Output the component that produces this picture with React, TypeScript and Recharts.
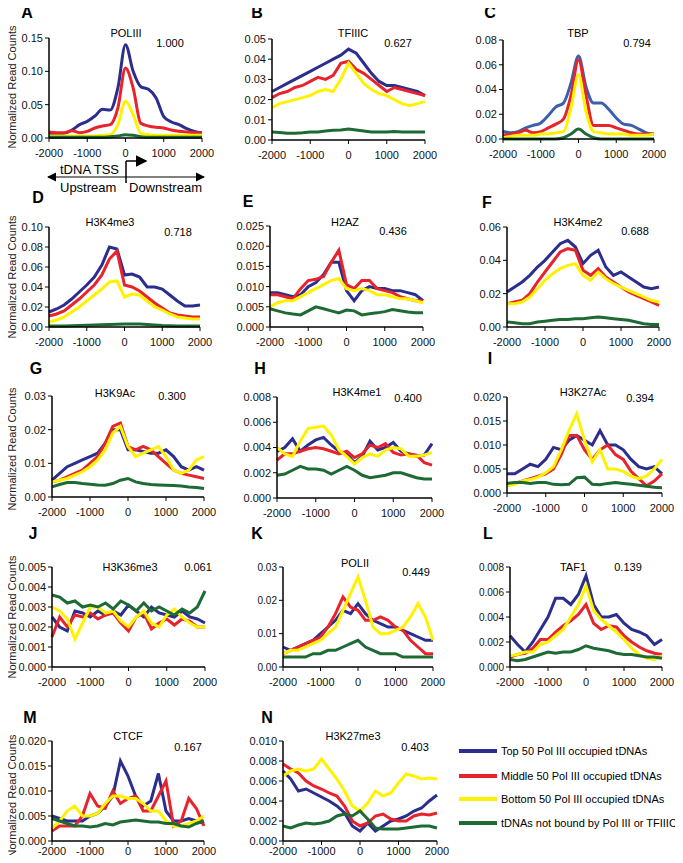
import { Line, LineChart, XAxis, YAxis } from "recharts";

// positions relative to tDNA TSS (bp)
const POS = [-2000, -1800, -1600, -1400, -1200, -1000, -800, -600, -400, -200, 0, 200, 400, 600, 800, 1000, 1200, 1400, 1600, 1800, 2000];
const X_TICKS = [-2000, -1000, 0, 1000, 2000];

// A POLIII
const aTop = [0.006, 0.006, 0.007, 0.012, 0.02, 0.025, 0.033, 0.043, 0.042, 0.075, 0.14, 0.1, 0.077, 0.073, 0.06, 0.032, 0.024, 0.02, 0.014, 0.01, 0.008];
const aMid = [0.009, 0.008, 0.008, 0.011, 0.008, 0.01, 0.015, 0.018, 0.02, 0.045, 0.105, 0.075, 0.022, 0.018, 0.016, 0.015, 0.012, 0.01, 0.009, 0.008, 0.008];
const aLow = [0.003, 0.003, 0.003, 0.003, 0.003, 0.003, 0.003, 0.004, 0.005, 0.02, 0.055, 0.035, 0.007, 0.005, 0.004, 0.004, 0.004, 0.004, 0.004, 0.004, 0.004];
const aNone = [0.001, 0.001, 0.001, 0.001, 0.001, 0.001, 0.001, 0.001, 0.002, 0.003, 0.005, 0.004, 0.002, 0.001, 0.001, 0.001, 0.001, 0.001, 0.001, 0.001, 0.001];

// B TFIIIC
const bTop = [0.024, 0.026, 0.028, 0.03, 0.032, 0.034, 0.036, 0.038, 0.04, 0.042, 0.045, 0.043, 0.038, 0.033, 0.029, 0.027, 0.027, 0.026, 0.025, 0.024, 0.022];
const bMid = [0.021, 0.023, 0.024, 0.026, 0.027, 0.029, 0.031, 0.03, 0.032, 0.038, 0.039, 0.035, 0.033, 0.03, 0.027, 0.024, 0.026, 0.025, 0.024, 0.023, 0.022];
const bLow = [0.016, 0.018, 0.019, 0.02, 0.021, 0.022, 0.024, 0.025, 0.024, 0.03, 0.038, 0.033, 0.028, 0.025, 0.023, 0.022, 0.02, 0.018, 0.017, 0.018, 0.019];
const bNone = [0.004, 0.0037, 0.0033, 0.0033, 0.0036, 0.004, 0.004, 0.0045, 0.0048, 0.005, 0.0055, 0.005, 0.0045, 0.004, 0.004, 0.004, 0.0042, 0.004, 0.004, 0.004, 0.004];

// C TBP
const cTop = [0.006, 0.005, 0.006, 0.009, 0.011, 0.013, 0.019, 0.026, 0.029, 0.045, 0.067, 0.042, 0.029, 0.029, 0.024, 0.017, 0.012, 0.011, 0.008, 0.005, 0.004];
const cMid = [0.003, 0.004, 0.005, 0.007, 0.005, 0.006, 0.009, 0.012, 0.016, 0.035, 0.064, 0.035, 0.011, 0.011, 0.011, 0.009, 0.007, 0.005, 0.004, 0.004, 0.004];
const cLow = [0.001, 0.002, 0.003, 0.003, 0.003, 0.004, 0.004, 0.005, 0.006, 0.025, 0.052, 0.022, 0.006, 0.005, 0.004, 0.004, 0.004, 0.003, 0.003, 0.003, 0.004];
const cNone = [0, 0, 0, 0, 0, 0, 0, 0, 0.001, 0.004, 0.008, 0.004, 0.001, 0, 0, 0, 0, 0, 0, 0, 0];

// D H3K4me3
const dTop = [0.015, 0.018, 0.022, 0.028, 0.035, 0.042, 0.05, 0.062, 0.08, 0.078, 0.052, 0.053, 0.05, 0.04, 0.04, 0.038, 0.032, 0.026, 0.021, 0.021, 0.022];
const dMid = [0.011, 0.013, 0.016, 0.022, 0.028, 0.035, 0.042, 0.052, 0.068, 0.076, 0.042, 0.04, 0.036, 0.03, 0.024, 0.019, 0.014, 0.012, 0.011, 0.01, 0.01];
const dLow = [0.005, 0.007, 0.01, 0.015, 0.02, 0.026, 0.032, 0.038, 0.045, 0.046, 0.03, 0.033, 0.032, 0.026, 0.02, 0.017, 0.013, 0.01, 0.009, 0.008, 0.008];
const dNone = [0.001, 0.001, 0.001, 0.0012, 0.0015, 0.0018, 0.002, 0.0022, 0.0025, 0.0028, 0.003, 0.003, 0.003, 0.0025, 0.002, 0.0015, 0.0012, 0.001, 0.001, 0.001, 0.001];

// E H2AZ
const eTop = [0.0085, 0.0085, 0.008, 0.0075, 0.008, 0.01, 0.011, 0.013, 0.016, 0.016, 0.009, 0.0065, 0.009, 0.01, 0.0095, 0.0095, 0.009, 0.009, 0.0085, 0.008, 0.0065];
const eMid = [0.008, 0.008, 0.0075, 0.007, 0.0095, 0.0115, 0.0118, 0.0125, 0.016, 0.019, 0.0105, 0.0095, 0.0115, 0.0115, 0.0095, 0.009, 0.0085, 0.0075, 0.007, 0.0065, 0.0065];
const eLow = [0.005, 0.006, 0.0065, 0.0065, 0.0075, 0.0085, 0.0095, 0.0105, 0.0115, 0.012, 0.0095, 0.009, 0.0095, 0.009, 0.008, 0.008, 0.0075, 0.007, 0.007, 0.0065, 0.006];
const eNone = [0.0045, 0.004, 0.0035, 0.0032, 0.003, 0.004, 0.005, 0.0045, 0.004, 0.0035, 0.0042, 0.004, 0.003, 0.0033, 0.0035, 0.0038, 0.0043, 0.004, 0.0037, 0.0035, 0.0035];

// F H3K4me2
const fTop = [0.021, 0.024, 0.027, 0.031, 0.036, 0.04, 0.045, 0.05, 0.052, 0.048, 0.038, 0.043, 0.046, 0.036, 0.031, 0.033, 0.03, 0.027, 0.024, 0.023, 0.024];
const fMid = [0.014, 0.015, 0.016, 0.02, 0.027, 0.033, 0.039, 0.045, 0.047, 0.046, 0.034, 0.031, 0.035, 0.03, 0.027, 0.024, 0.021, 0.019, 0.017, 0.015, 0.013];
const fLow = [0.014, 0.014, 0.015, 0.018, 0.023, 0.028, 0.032, 0.035, 0.037, 0.038, 0.031, 0.028, 0.033, 0.029, 0.026, 0.024, 0.022, 0.02, 0.018, 0.016, 0.015];
const fNone = [0.003, 0.0025, 0.002, 0.002, 0.003, 0.0035, 0.004, 0.0045, 0.0045, 0.005, 0.005, 0.0055, 0.006, 0.0055, 0.005, 0.0045, 0.004, 0.003, 0.002, 0.0015, 0.0015];

// G H3K9Ac
const gTop = [0.005, 0.007, 0.009, 0.01, 0.011, 0.012, 0.013, 0.016, 0.02, 0.02, 0.014, 0.014, 0.0135, 0.013, 0.013, 0.014, 0.012, 0.009, 0.008, 0.009, 0.008];
const gMid = [0.0045, 0.005, 0.006, 0.007, 0.008, 0.01, 0.012, 0.016, 0.021, 0.022, 0.015, 0.014, 0.015, 0.014, 0.012, 0.01, 0.008, 0.007, 0.0065, 0.006, 0.0055];
const gLow = [0.0045, 0.005, 0.0055, 0.0065, 0.0075, 0.009, 0.011, 0.014, 0.019, 0.021, 0.015, 0.012, 0.013, 0.014, 0.015, 0.012, 0.008, 0.007, 0.008, 0.011, 0.012];
const gNone = [0.003, 0.0037, 0.0043, 0.0043, 0.004, 0.0038, 0.0036, 0.0035, 0.004, 0.005, 0.0055, 0.0045, 0.004, 0.0037, 0.0036, 0.0035, 0.0034, 0.0033, 0.003, 0.0028, 0.0025];

// H H3K4me1
const hTop = [0.0037, 0.004, 0.0047, 0.0037, 0.0042, 0.0046, 0.0048, 0.0042, 0.0037, 0.0035, 0.0028, 0.0033, 0.0045, 0.0038, 0.004, 0.0044, 0.0037, 0.0035, 0.0033, 0.0034, 0.0043];
const hMid = [0.003, 0.0035, 0.0035, 0.0037, 0.0039, 0.004, 0.0039, 0.0037, 0.0035, 0.0037, 0.0032, 0.0035, 0.0042, 0.004, 0.0043, 0.0036, 0.0034, 0.0035, 0.0034, 0.0028, 0.0026];
const hLow = [0.004, 0.0035, 0.0033, 0.0045, 0.0055, 0.0056, 0.0057, 0.005, 0.0038, 0.0033, 0.0027, 0.0032, 0.0035, 0.0033, 0.0038, 0.004, 0.0039, 0.0033, 0.0033, 0.0034, 0.0036];
const hNone = [0.0018, 0.0019, 0.0022, 0.0025, 0.0023, 0.0023, 0.0022, 0.0019, 0.0022, 0.0025, 0.0022, 0.0018, 0.0016, 0.0017, 0.0018, 0.002, 0.002, 0.0018, 0.0016, 0.0015, 0.0015];

// I H3K27Ac
const iTop = [0.004, 0.004, 0.005, 0.006, 0.0055, 0.007, 0.0095, 0.009, 0.011, 0.012, 0.011, 0.01, 0.013, 0.01, 0.01, 0.009, 0.007, 0.0055, 0.005, 0.0055, 0.004];
const iMid = [0.0015, 0.002, 0.0025, 0.003, 0.0035, 0.004, 0.005, 0.008, 0.012, 0.012, 0.009, 0.007, 0.009, 0.01, 0.008, 0.007, 0.0045, 0.003, 0.0015, 0.0025, 0.004];
const iLow = [0.0015, 0.0018, 0.0025, 0.0028, 0.0033, 0.0042, 0.0055, 0.009, 0.013, 0.0165, 0.011, 0.0065, 0.009, 0.005, 0.005, 0.0045, 0.0035, 0.003, 0.0035, 0.005, 0.007];
const iNone = [0.002, 0.0022, 0.0022, 0.002, 0.0022, 0.0022, 0.0018, 0.0017, 0.0018, 0.0032, 0.0033, 0.0018, 0.0017, 0.002, 0.0022, 0.002, 0.0018, 0.0016, 0.0014, 0.0012, 0.0011];

// J H3K36me3
const jTop = [0.0025, 0.002, 0.0018, 0.0028, 0.0027, 0.0025, 0.0028, 0.0026, 0.0028, 0.0026, 0.0031, 0.0028, 0.0025, 0.003, 0.0027, 0.0026, 0.0025, 0.0028, 0.0025, 0.0024, 0.0022];
const jMid = [0.0015, 0.0025, 0.002, 0.0026, 0.0025, 0.0027, 0.0024, 0.0026, 0.0027, 0.0022, 0.0018, 0.0025, 0.0027, 0.0019, 0.0022, 0.0024, 0.0021, 0.0024, 0.0023, 0.002, 0.002];
const jLow = [0.003, 0.0028, 0.0024, 0.0014, 0.0022, 0.003, 0.003, 0.0027, 0.0028, 0.0023, 0.002, 0.0025, 0.0028, 0.0022, 0.002, 0.0026, 0.0029, 0.0025, 0.0022, 0.002, 0.002];
const jNone = [0.0036, 0.0035, 0.0032, 0.0033, 0.003, 0.0031, 0.003, 0.0032, 0.0029, 0.0033, 0.0031, 0.0028, 0.0032, 0.0028, 0.003, 0.0028, 0.0026, 0.0029, 0.0027, 0.003, 0.0038];

// K POLII
const kTop = [0.006, 0.005, 0.006, 0.007, 0.008, 0.01, 0.012, 0.014, 0.017, 0.016, 0.019, 0.016, 0.014, 0.013, 0.012, 0.012, 0.011, 0.01, 0.009, 0.008, 0.008];
const kMid = [0.004, 0.005, 0.006, 0.007, 0.008, 0.009, 0.012, 0.016, 0.021, 0.018, 0.017, 0.014, 0.014, 0.015, 0.014, 0.012, 0.011, 0.008, 0.006, 0.004, 0.004];
const kLow = [0.004, 0.005, 0.005, 0.006, 0.007, 0.008, 0.01, 0.012, 0.017, 0.022, 0.027, 0.02, 0.012, 0.01, 0.01, 0.011, 0.012, 0.015, 0.019, 0.015, 0.008];
const kNone = [0.003, 0.003, 0.003, 0.003, 0.004, 0.004, 0.005, 0.005, 0.006, 0.007, 0.008, 0.006, 0.005, 0.004, 0.004, 0.004, 0.003, 0.003, 0.003, 0.003, 0.003];

// L TAF1
const lTop = [0.0025, 0.0018, 0.0012, 0.002, 0.003, 0.004, 0.0055, 0.0055, 0.005, 0.0058, 0.0073, 0.005, 0.004, 0.004, 0.0042, 0.0035, 0.003, 0.0028, 0.0025, 0.0018, 0.0022];
const lMid = [0.0008, 0.001, 0.0011, 0.0015, 0.0022, 0.0022, 0.0028, 0.0033, 0.0037, 0.0042, 0.005, 0.0035, 0.003, 0.0033, 0.0032, 0.0025, 0.002, 0.0016, 0.0013, 0.0011, 0.001];
const lLow = [0.0009, 0.001, 0.0012, 0.0012, 0.0018, 0.002, 0.0025, 0.003, 0.004, 0.005, 0.0065, 0.0045, 0.0038, 0.0033, 0.0028, 0.0022, 0.0015, 0.001, 0.0007, 0.0006, 0.0009];
const lNone = [0.0006, 0.0005, 0.0006, 0.0008, 0.001, 0.0012, 0.0011, 0.0012, 0.0012, 0.0014, 0.0017, 0.0015, 0.0014, 0.0013, 0.0011, 0.001, 0.001, 0.0009, 0.0008, 0.0008, 0.0007];

// M CTCF
const mTop = [0.005, 0.0045, 0.004, 0.004, 0.004, 0.005, 0.0055, 0.007, 0.009, 0.016, 0.013, 0.009, 0.007, 0.008, 0.0135, 0.006, 0.004, 0.004, 0.0045, 0.004, 0.0035];
const mMid = [0.002, 0.003, 0.003, 0.003, 0.005, 0.0095, 0.007, 0.0065, 0.01, 0.0075, 0.0085, 0.009, 0.006, 0.006, 0.009, 0.012, 0.003, 0.004, 0.0085, 0.0065, 0.003];
const mLow = [0.0025, 0.004, 0.006, 0.007, 0.005, 0.005, 0.0055, 0.0075, 0.009, 0.009, 0.0085, 0.0085, 0.0075, 0.006, 0.006, 0.004, 0.003, 0.003, 0.0035, 0.004, 0.005];
const mNone = [0.0045, 0.004, 0.0035, 0.003, 0.003, 0.0028, 0.003, 0.0035, 0.0032, 0.0038, 0.004, 0.0042, 0.004, 0.0038, 0.0038, 0.0035, 0.0035, 0.003, 0.0028, 0.0035, 0.004];

// N H3K27me3
const nTop = [0.007, 0.0062, 0.005, 0.0052, 0.0048, 0.0044, 0.004, 0.0035, 0.0028, 0.0015, 0.001, 0.0018, 0.001, 0.0015, 0.002, 0.0022, 0.0025, 0.003, 0.0033, 0.004, 0.0046];
const nMid = [0.0077, 0.0072, 0.0068, 0.006, 0.0055, 0.0052, 0.0048, 0.0045, 0.0035, 0.002, 0.0015, 0.0018, 0.0025, 0.0027, 0.0022, 0.002, 0.002, 0.0025, 0.0027, 0.0026, 0.0028];
const nLow = [0.0065, 0.007, 0.0072, 0.007, 0.0072, 0.0082, 0.0072, 0.0062, 0.005, 0.0035, 0.003, 0.0038, 0.005, 0.0045, 0.0048, 0.0058, 0.0067, 0.0065, 0.0062, 0.0063, 0.0062];
const nNone = [0.0015, 0.0013, 0.0016, 0.0018, 0.0017, 0.0018, 0.002, 0.0025, 0.0027, 0.0025, 0.003, 0.0022, 0.0013, 0.0012, 0.0012, 0.0012, 0.0013, 0.0014, 0.0015, 0.0015, 0.0013];

const LEGEND_LABELS = [
  "Top 50 Pol III occupied tDNAs",
  "Middle 50  Pol III occupied tDNAs",
  "Bottom 50  Pol III occupied tDNAs",
  "tDNAs not bound by Pol III or TFIIIC",
];

const FONT = 'Arial, "Liberation Sans", Helvetica, sans-serif';
const BLUE = "#2B2E8D";
const RED = "#E8232B";
const YELLOW = "#FFF200";
const GREEN = "#1D6A35";
const COLORS = [BLUE, RED, YELLOW, GREEN];

const Y_W = 50;
const PAD_T = 10;
const PAD_R = 12;
const X_H = 30;

const panels = [
  { letter: "A", title: "POLIII", score: "1.000", series: [aTop, aMid, aLow, aNone], yTicks: [0, 0.05, 0.1, 0.15], digits: 2, box: [49, 38, 202, 138], lp: [27, 12], tp: [126, 33], sp: [170, 43], smooth: true },
  { letter: "B", title: "TFIIIC", score: "0.627", series: [bTop, bMid, bLow, bNone], yTicks: [0, 0.01, 0.02, 0.03, 0.04, 0.05], digits: 2, box: [272, 39, 425, 140], lp: [257, 12], tp: [353, 33], sp: [398, 43] },
  { letter: "C", title: "TBP", score: "0.794", series: [cTop, cMid, cLow, cNone], yTicks: [0, 0.02, 0.04, 0.06, 0.08], digits: 2, box: [503, 40, 654, 139], lp: [490, 12], tp: [578, 33], sp: [637, 43], smooth: true, blue: "#3C5FAD" },
  { letter: "D", title: "H3K4me3", score: "0.718", series: [dTop, dMid, dLow, dNone], yTicks: [0, 0.02, 0.04, 0.06, 0.08, 0.1], digits: 2, box: [49, 227, 200, 327], lp: [38, 197], tp: [110, 222], sp: [178, 232] },
  { letter: "E", title: "H2AZ", score: "0.436", series: [eTop, eMid, eLow, eNone], yTicks: [0, 0.005, 0.01, 0.015, 0.02, 0.025], digits: 3, box: [270, 226, 423, 327], lp: [248, 201], tp: [345, 222], sp: [393, 231] },
  { letter: "F", title: "H3K4me2", score: "0.688", series: [fTop, fMid, fLow, fNone], yTicks: [0, 0.02, 0.04, 0.06], digits: 2, box: [507, 227, 659, 327], lp: [487, 202], tp: [578, 222], sp: [635, 231] },
  { letter: "G", title: "H3K9Ac", score: "0.300", series: [gTop, gMid, gLow, gNone], yTicks: [0, 0.01, 0.02, 0.03], digits: 2, box: [52, 396, 204, 497], lp: [36, 368], tp: [115, 393], sp: [172, 396] },
  { letter: "H", title: "H3K4me1", score: "0.400", series: [hTop, hMid, hLow, hNone], yTicks: [0, 0.002, 0.004, 0.006, 0.008], digits: 3, box: [277, 397, 432, 498], lp: [260, 368], tp: [357, 392], sp: [408, 398] },
  { letter: "I", title: "H3K27Ac", score: "0.394", series: [iTop, iMid, iLow, iNone], yTicks: [0, 0.005, 0.01, 0.015, 0.02], digits: 3, box: [507, 397, 662, 493], lp: [490, 358], tp: [583, 392], sp: [640, 398] },
  { letter: "J", title: "H3K36me3", score: "0.061", series: [jTop, jMid, jLow, jNone], yTicks: [0, 0.001, 0.002, 0.003, 0.004, 0.005], digits: 3, box: [52, 567, 205, 667], lp: [33, 533], tp: [130, 567], sp: [198, 567] },
  { letter: "K", title: "POLII", score: "0.449", series: [kTop, kMid, kLow, kNone], yTicks: [0, 0.01, 0.02, 0.03], digits: 2, box: [283, 567, 433, 667], lp: [257, 533], tp: [355, 563], sp: [416, 572], small: true },
  { letter: "L", title: "TAF1", score: "0.139", series: [lTop, lMid, lLow, lNone], yTicks: [0, 0.002, 0.004, 0.006, 0.008], digits: 3, box: [510, 567, 662, 667], lp: [488, 533], tp: [573, 567], sp: [628, 567], small: true },
  { letter: "M", title: "CTCF", score: "0.167", series: [mTop, mMid, mLow, mNone], yTicks: [0, 0.005, 0.01, 0.015, 0.02], digits: 3, box: [52, 741, 204, 841], lp: [30, 717], tp: [128, 736], sp: [188, 747], xm: 2 },
  { letter: "N", title: "H3K27me3", score: "0.403", series: [nTop, nMid, nLow, nNone], yTicks: [0, 0.002, 0.004, 0.006, 0.008, 0.01], digits: 3, box: [283, 741, 437, 841], lp: [267, 717], tp: [353, 736], sp: [415, 747], xm: 2 },
];

const yLabelCenters = [87, 277, 449, 617, 796];

function Panel({ p }: { p: any }) {
  const [l, t, r, b] = p.box;
  const w = r - l;
  const h = b - t;
  const data = POS.map((x, i) => ({
    x,
    top: p.series[0][i],
    mid: p.series[1][i],
    low: p.series[2][i],
    none: p.series[3][i],
  }));
  const keys = ["top", "mid", "low", "none"];
  const colors = [p.blue || BLUE, RED, YELLOW, GREEN];
  const tickStyle = { fontSize: p.small ? 10 : 11, fill: "#111", fontFamily: FONT };
  return (
    <div style={{ position: "absolute", left: l - Y_W, top: t - PAD_T }}>
      <LineChart
        width={w + Y_W + PAD_R}
        height={h + PAD_T + X_H}
        data={data}
        margin={{ top: PAD_T, right: PAD_R, bottom: 0, left: 0 }}
      >
        <XAxis
          type="number"
          dataKey="x"
          domain={[-2000, 2000]}
          ticks={X_TICKS}
          interval={0}
          height={X_H}
          tickSize={4}
          tickMargin={p.xm ?? 7}
          tick={{ fontSize: 11, fill: "#111", fontFamily: FONT }}
          axisLine={{ stroke: "#000", strokeWidth: 1.5 }}
          tickLine={{ stroke: "#000" }}
        />
        <YAxis
          type="number"
          domain={[0, p.yTicks[p.yTicks.length - 1]]}
          ticks={p.yTicks}
          interval={0}
          width={Y_W}
          tickSize={4}
          tickFormatter={(v: number) => v.toFixed(p.digits)}
          tick={tickStyle}
          axisLine={{ stroke: "#000", strokeWidth: 1.5 }}
          tickLine={{ stroke: "#000" }}
        />
        {keys.map((k, i) => (
          <Line
            key={k}
            dataKey={k}
            type={p.smooth ? "monotone" : "linear"}
            stroke={colors[i]}
            strokeWidth={3}
            dot={false}
            isAnimationActive={false}
          />
        ))}
      </LineChart>
    </div>
  );
}

export default function App() {
  return (
    <div style={{ position: "relative", width: 683, height: 863, margin: -8, background: "#fff", fontFamily: FONT }}>
      {panels.map((p) => (
        <Panel key={p.letter} p={p} />
      ))}
      <svg width={683} height={863} style={{ position: "absolute", left: 0, top: 0, pointerEvents: "none", overflow: "visible" }}>
        <defs>
          <marker id="ah" markerWidth="8" markerHeight="8" refX="7" refY="4" orient="auto-start-reverse">
            <path d="M0,0 L8,4 L0,8 z" fill="#000" />
          </marker>
        </defs>
        {panels.map((p) => (
          <g key={p.letter} fontFamily={FONT}>
            <text x={p.lp[0]} y={p.lp[1]} fontSize={16} fontWeight="bold" textAnchor="middle" dominantBaseline="central">
              {p.letter}
            </text>
            <text x={p.tp[0]} y={p.tp[1]} fontSize={11} textAnchor="middle" dominantBaseline="central">
              {p.title}
            </text>
            <text x={p.sp[0]} y={p.sp[1]} fontSize={11} textAnchor="middle" dominantBaseline="central">
              {p.score}
            </text>
          </g>
        ))}
        {yLabelCenters.map((cy) => (
          <text
            key={cy}
            x={0}
            y={0}
            transform={`translate(12,${cy}) rotate(-90)`}
            fontSize={11}
            fontFamily={FONT}
            textAnchor="middle"
            dominantBaseline="central"
            fill="#222"
          >
            Normalized Read Counts
          </text>
        ))}
        {/* TSS diagram under panel A */}
        <text x={60} y={174} fontSize={13} fontFamily={FONT}>tDNA TSS</text>
        <line x1={126} y1={161} x2={126} y2={183} stroke="#000" strokeWidth={1.5} />
        <line x1={126} y1={161} x2={146} y2={161} stroke="#000" strokeWidth={1.5} markerEnd="url(#ah)" />
        <line x1={48} y1={177} x2={204} y2={177} stroke="#000" strokeWidth={1.2} markerStart="url(#ah)" markerEnd="url(#ah)" />
        <text x={60} y={192} fontSize={13} fontFamily={FONT}>Upstream</text>
        <text x={129} y={192} fontSize={13} fontFamily={FONT}>Downstream</text>
        {/* legend */}
        {LEGEND_LABELS.map((lab, i) => {
          const y = [751, 776, 799, 823][i];
          return (
            <g key={lab}>
              <line x1={459} y1={y} x2={497} y2={y} stroke={COLORS[i]} strokeWidth={4} />
              <text x={501} y={y} fontSize={11} fontFamily={FONT} dominantBaseline="central">
                {lab}
              </text>
            </g>
          );
        })}
      </svg>
    </div>
  );
}
